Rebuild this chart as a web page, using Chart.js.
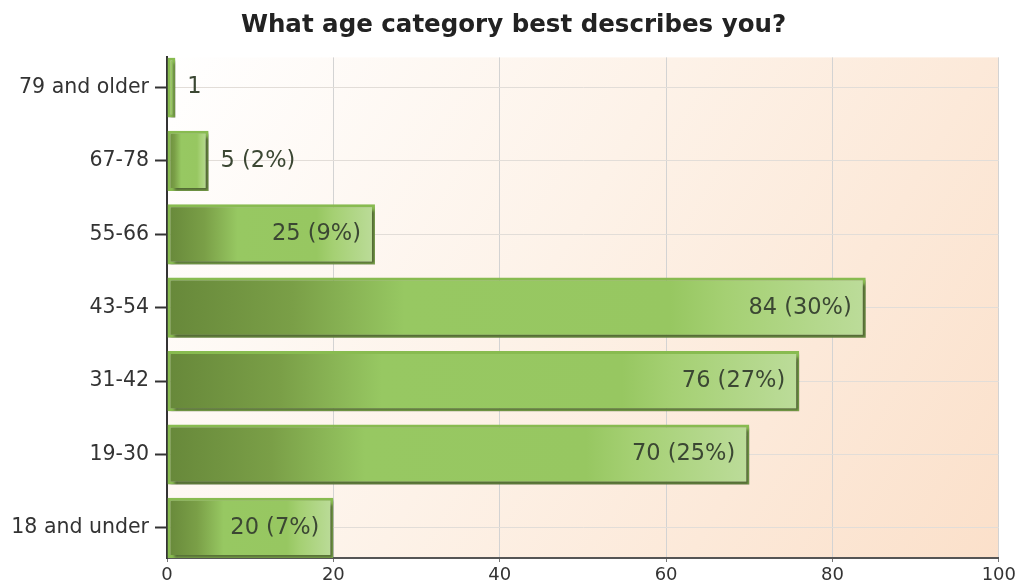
<!DOCTYPE html>
<html>
<head>
<meta charset="utf-8">
<title>Age categories</title>
<script src="https://cdn.jsdelivr.net/npm/chart.js@4.4.1/dist/chart.umd.min.js"></script>
<style>
  body { margin: 0; background: #fff; }
  #wrap { width: 1019px; height: 586px; }
</style>
</head>
<body>
<div id="wrap"><canvas id="ageChart" width="1019" height="586"></canvas></div>
<script>
// Survey answers, listed from the top row down
const ageGroups = ["79 and older", "67-78", "55-66", "43-54", "31-42", "19-30", "18 and under"];
const responses = [1, 5, 25, 84, 76, 70, 20];
const xTicks = [0, 20, 40, 60, 80, 100];

const total = responses.reduce((sum, n) => sum + n, 0);
const barShare = 0.82; // bar thickness as a share of the row pitch

// "n (p%)" - the percentage is left off when it rounds to zero
const labelFor = (n) => {
  const pct = Math.round(n / total * 100);
  return pct > 0 ? n + " (" + pct + "%)" : String(n);
};

// Dark-to-light green fill running along each bar
const barFill = (context) => {
  const chart = context.chart;
  if (!chart.chartArea || !context.parsed) return "#97c761";
  const x0 = chart.scales.x.getPixelForValue(0);
  const x1 = chart.scales.x.getPixelForValue(context.parsed.x);
  const g = chart.ctx.createLinearGradient(x0, 0, Math.max(x1, x0 + 1), 0);
  g.addColorStop(0, "#67883a");
  g.addColorStop(0.18, "#7a9f47");
  g.addColorStop(0.34, "#97c862");
  g.addColorStop(0.72, "#97c761");
  g.addColorStop(0.8, "#a5d073");
  g.addColorStop(1, "#bcdc9a");
  return g;
};

// Warm gradient behind the plot area
const plotBackground = {
  id: "plotBackground",
  beforeDraw(chart) {
    const { ctx, chartArea: a } = chart;
    const g = ctx.createLinearGradient(a.left, a.top, a.right, a.bottom);
    g.addColorStop(0, "#ffffff");
    g.addColorStop(0.45, "#fdf2e8");
    g.addColorStop(1, "#fbe0ca");
    ctx.save();
    ctx.fillStyle = g;
    ctx.fillRect(a.left, a.top, a.right - a.left, a.bottom - a.top);
    ctx.restore();
  }
};

// Soft drop shadow under the bars
const barShadow = {
  id: "barShadow",
  beforeDatasetsDraw(chart) {
    const ctx = chart.ctx;
    ctx.save();
    ctx.shadowColor = "rgba(40, 40, 30, 0.6)";
    ctx.shadowOffsetX = 3;
    ctx.shadowOffsetY = 3;
    ctx.shadowBlur = 3;
  },
  afterDatasetsDraw(chart) {
    chart.ctx.restore();
  }
};

// Count and share, inside the bar end when it fits, otherwise just past it
const valueLabels = {
  id: "valueLabels",
  afterDatasetsDraw(chart) {
    const ctx = chart.ctx;
    const meta = chart.getDatasetMeta(0);
    ctx.save();
    ctx.font = "22.5px 'DejaVu Sans'";
    ctx.textBaseline = "middle";
    ctx.fillStyle = "#3b4733";
    meta.data.forEach((bar, i) => {
      const text = labelFor(responses[i]);
      const w = ctx.measureText(text).width;
      const len = bar.x - bar.base;
      if (w + 28 < len) {
        ctx.textAlign = "right";
        ctx.fillText(text, bar.x - 14, bar.y);
      } else {
        ctx.textAlign = "left";
        ctx.fillText(text, bar.x + 12, bar.y);
      }
    });
    ctx.restore();
  }
};

new Chart(document.getElementById("ageChart"), {
  type: "bar",
  data: {
    datasets: [{
      data: responses.map((n, i) => ({ x: n, y: i })),
      backgroundColor: barFill,
      borderColor: "#88bb50",
      borderWidth: 3,
      borderSkipped: false,
      barPercentage: barShare,
      categoryPercentage: 1
    }]
  },
  options: {
    indexAxis: "y",
    responsive: false,
    animation: false,
    layout: { padding: { left: 11, right: 3, top: 0, bottom: 0 } },
    plugins: {
      legend: { display: false },
      tooltip: { enabled: false },
      title: {
        display: true,
        text: "What age category best describes you?",
        color: "#222",
        font: { family: "'DejaVu Sans'", size: 24.5, weight: "bold" },
        padding: { top: 11, bottom: 17 }
      }
    },
    scales: {
      x: {
        type: "linear",
        min: 0,
        max: 100,
        afterBuildTicks: (s) => { s.ticks = xTicks.map((v) => ({ value: v })); },
        afterFit: (s) => { s.height = 28; },
        grid: { color: "#d3d3d3", lineWidth: 1, tickLength: 4, tickColor: "#777" },
        border: { color: "#555", width: 2 },
        ticks: { color: "#333", padding: 3, font: { family: "'DejaVu Sans'", size: 18 } }
      },
      y: {
        type: "linear",
        reverse: true,
        offset: false,
        min: -barShare / 2,
        max: ageGroups.length - 1 + barShare / 2,
        afterBuildTicks: (s) => { s.ticks = ageGroups.map((_, i) => ({ value: i })); },
        afterFit: (s) => { s.width = 156; },
        grid: { offset: false, color: "#e2ddd8", lineWidth: 1, tickLength: 12, tickColor: "#333", tickWidth: 2 },
        border: { color: "#333", width: 2 },
        ticks: {
          color: "#333",
          padding: 6,
          font: { family: "'DejaVu Sans'", size: 20.5 },
          callback: (v) => ageGroups[v]
        }
      }
    }
  },
  plugins: [plotBackground, barShadow, valueLabels]
});
</script>
</body>
</html>
